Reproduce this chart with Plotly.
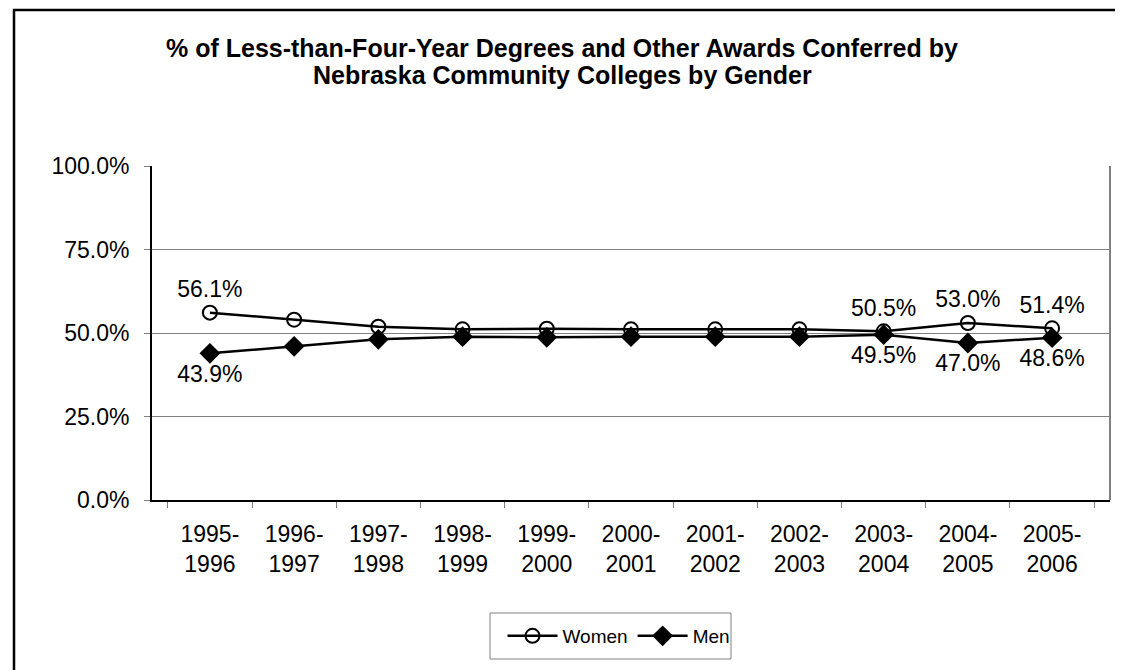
import plotly.graph_objects as go

categories = ["1995-<br>1996", "1996-<br>1997", "1997-<br>1998", "1998-<br>1999", "1999-<br>2000",
              "2000-<br>2001", "2001-<br>2002", "2002-<br>2003", "2003-<br>2004", "2004-<br>2005",
              "2005-<br>2006"]
women = [0.561, 0.540, 0.519, 0.511, 0.513, 0.511, 0.511, 0.511, 0.505, 0.530, 0.514]
men = [0.439, 0.460, 0.481, 0.489, 0.487, 0.489, 0.489, 0.489, 0.495, 0.470, 0.486]
women_labels = ["56.1%", "", "", "", "", "", "", "", "50.5%", "53.0%", "51.4%"]
men_labels = ["43.9%", "", "", "", "", "", "", "", "49.5%", "47.0%", "48.6%"]
title_lines = ["% of Less-than-Four-Year Degrees and Other Awards Conferred by",
               "Nebraska Community Colleges by Gender"]

FONT = "Liberation Sans, Arial, sans-serif"

fig = go.Figure()
fig.add_trace(go.Scatter(
    x=categories, y=women, name="Women", mode="lines+markers+text",
    text=women_labels, textposition="top center",
    textfont=dict(size=23, color="black", family=FONT),
    line=dict(color="black", width=2.5),
    marker=dict(symbol="circle-open", size=14, color="black", line=dict(width=2)),
))
fig.add_trace(go.Scatter(
    x=categories, y=men, name="Men", mode="lines+markers+text",
    text=men_labels, textposition="bottom center",
    textfont=dict(size=23, color="black", family=FONT),
    line=dict(color="black", width=2.5),
    marker=dict(symbol="diamond", size=16, color="black"),
))

# page offset of 8px (body margin) taken into account
OFF = 8
W, H = 1123 - OFF, 670 - OFF
L, T = 152 - OFF, 166 - OFF
R = W - (1110 - OFF)
B = H - (500 - OFF)

def px_x(p):  # page pixel -> paper x
    return (p - 152) / (1110 - 152)

def px_y(p):  # page pixel -> paper y
    return (500 - p) / (500 - 166)

annotations = [
    dict(text="<b>%s</b>" % title_lines[0], x=px_x(562), y=px_y(48), xref="paper", yref="paper",
         xanchor="center", yanchor="middle", showarrow=False,
         font=dict(size=25, family=FONT, color="black")),
    dict(text="<b>%s</b>" % title_lines[1], x=px_x(562), y=px_y(75), xref="paper", yref="paper",
         xanchor="center", yanchor="middle", showarrow=False,
         font=dict(size=25, family=FONT, color="black")),
]

fig.update_layout(
    width=W, height=H,
    margin=dict(l=L, r=R, t=T, b=B),
    paper_bgcolor="white", plot_bgcolor="white",
    font=dict(family=FONT, color="black", size=23),
    annotations=annotations,
    showlegend=True,
    legend=dict(
        orientation="h", x=px_x(619), xanchor="center", y=px_y(636), yanchor="middle",
        borderwidth=0, bgcolor="rgba(0,0,0,0)",
        font=dict(size=19, family=FONT, color="black"),
        itemwidth=50,
    ),
    xaxis=dict(
        type="category", tickson="boundaries", ticks="outside", ticklen=6,
        tickcolor="#808080", showline=True, linecolor="black", linewidth=2,
        showgrid=False, tickfont=dict(size=23), ticklabelstandoff=12,
    ),
    yaxis=dict(
        range=[0, 1], dtick=0.25, tickformat=".1%", ticks="outside", ticklen=6,
        tickcolor="#808080", showline=True, linecolor="black", linewidth=2,
        showgrid=True, gridcolor="#808080", gridwidth=1, zeroline=False,
        tickfont=dict(size=23), ticklabelstandoff=10,
    ),
    shapes=[
        dict(type="line", xref="paper", yref="paper", x0=1, x1=1, y0=0, y1=1,
             line=dict(color="#808080", width=2)),
        dict(type="rect", xref="paper", yref="paper",
             x0=px_x(14), x1=px_x(1140), y0=px_y(690), y1=px_y(10),
             line=dict(color="black", width=2.5), fillcolor="rgba(0,0,0,0)", layer="below"),
        dict(type="rect", xref="paper", yref="paper",
             x0=px_x(490), x1=px_x(731), y0=px_y(659), y1=px_y(613),
             line=dict(color="#808080", width=1), fillcolor="white", layer="below"),
    ],
)

fig.write_html("out.html")
